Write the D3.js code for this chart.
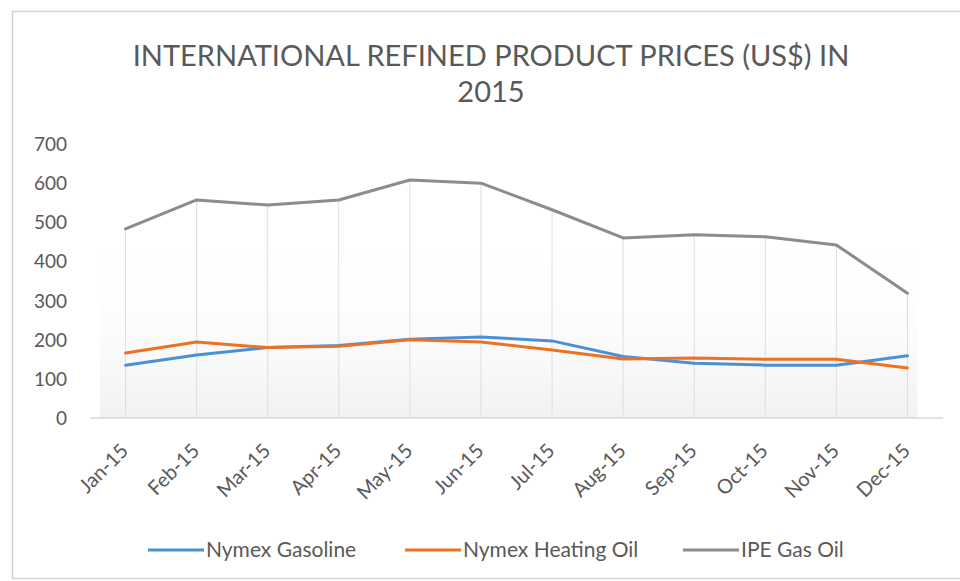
<!DOCTYPE html>
<html>
<head>
<meta charset="utf-8">
<script src="https://cdn.jsdelivr.net/npm/d3@7/dist/d3.min.js"></script>
<style>
  body { margin: 0; background: #fff; }
  text { font-family: Lato, "Open Sans", sans-serif; fill: #595959; }
</style>
</head>
<body>
<svg id="chart" width="960" height="581"></svg>
<script>
// ---------------- data ----------------
var months = ["Jan-15","Feb-15","Mar-15","Apr-15","May-15","Jun-15","Jul-15","Aug-15","Sep-15","Oct-15","Nov-15","Dec-15"];
var gasoline   = [135, 161, 180, 185, 201, 207, 197, 157, 140, 135, 135, 159];
var heatingOil = [166, 194, 180, 183, 200, 194, 174, 151, 153, 150, 150, 128];
var gasOil     = [483, 557, 544, 557, 608, 600, 532, 460, 468, 463, 442, 319];
var yTicks = [0, 100, 200, 300, 400, 500, 600, 700];

var seriesNames  = ["Nymex Gasoline", "Nymex Heating Oil", "IPE Gas Oil"];
var seriesColors = ["#4a90d9", "#f07022", "#8c8c8c"];
var seriesValues = [gasoline, heatingOil, gasOil];

// ---------------- layout ----------------
var svg = d3.select("#chart");
var PLOT_LEFT = 90, PLOT_RIGHT = 943, PLOT_TOP = 144, PLOT_BOTTOM = 418;

var x = d3.scaleBand().domain(months).range([PLOT_LEFT, PLOT_RIGHT]);
var y = d3.scaleLinear().domain([0, 700]).range([PLOT_BOTTOM, PLOT_TOP]);
function cx(m){ return x(m) + x.bandwidth()/2; }

// chart border (right and bottom edges run off the picture)
svg.append("rect")
  .attr("x", 12.5).attr("y", 11.5)
  .attr("width", 960).attr("height", 567)
  .style("fill", "none")
  .style("stroke", "#d4d4d4")
  .style("stroke-width", 1.5);

// faint shading in the plot area
var defs = svg.append("defs");
var grad = defs.append("linearGradient").attr("id", "shade")
  .attr("x1", 0).attr("y1", 0).attr("x2", 0).attr("y2", 1);
grad.append("stop").attr("offset", "0%").style("stop-color", "#ffffff").style("stop-opacity", 0);
grad.append("stop").attr("offset", "100%").style("stop-color", "#ececec").style("stop-opacity", 1);

svg.append("rect")
  .attr("x", PLOT_LEFT + 10).attr("y", y(450))
  .attr("width", cx(months[11]) - PLOT_LEFT)
  .attr("height", y(0) - y(450))
  .style("fill", "url(#shade)")
  .style("opacity", 0.7);

// title, two lines
var title = svg.append("text")
  .attr("x", 491).attr("y", 66)
  .attr("text-anchor", "middle")
  .style("font-size", "29px");
title.append("tspan").attr("x", 491).attr("dy", 0).text("INTERNATIONAL  REFINED  PRODUCT  PRICES  (US$)  IN");
title.append("tspan").attr("x", 491).attr("dy", 36).text("2015");

// drop lines from the highest series down to the axis
svg.append("g").selectAll("line")
  .data(months)
  .enter().append("line")
  .attr("x1", function(d){ return cx(d); })
  .attr("x2", function(d){ return cx(d); })
  .attr("y1", function(d,i){ return y(gasOil[i]); })
  .attr("y2", y(0))
  .style("stroke", "#dedede")
  .style("stroke-width", 1);

// baseline
svg.append("line")
  .attr("x1", PLOT_LEFT).attr("x2", PLOT_RIGHT)
  .attr("y1", y(0)).attr("y2", y(0))
  .style("stroke", "#d9d9d9")
  .style("stroke-width", 1.5);

// y axis labels
svg.append("g").selectAll("text")
  .data(yTicks)
  .enter().append("text")
  .attr("x", 67)
  .attr("y", function(d){ return y(d) + 7; })
  .attr("text-anchor", "end")
  .style("font-size", "19px")
  .text(function(d){ return d; });

// x axis labels, rotated
svg.append("g").selectAll("text")
  .data(months)
  .enter().append("text")
  .attr("text-anchor", "end")
  .attr("transform", function(d){ return "translate(" + (cx(d) + 4) + "," + 452 + ") rotate(-45)"; })
  .style("font-size", "20px")
  .text(function(d){ return d; });

// lines
var line = d3.line()
  .x(function(d,i){ return cx(months[i]); })
  .y(function(d){ return y(d); });

seriesValues.forEach(function(vals, s){
  svg.append("path")
    .datum(vals)
    .attr("d", line)
    .style("fill", "none")
    .style("stroke", seriesColors[s])
    .style("stroke-width", 3)
    .style("stroke-linejoin", "round")
    .style("stroke-linecap", "round");
});

// legend
var legendX = [148, 405, 683];
var legend = svg.append("g");
seriesNames.forEach(function(name, s){
  legend.append("line")
    .attr("x1", legendX[s]).attr("x2", legendX[s] + 56)
    .attr("y1", 550).attr("y2", 550)
    .style("stroke", seriesColors[s])
    .style("stroke-width", 3);
  legend.append("text")
    .attr("x", legendX[s] + 58)
    .attr("y", 557)
    .style("font-size", "21px")
    .text(name);
});
</script>
</body>
</html>
